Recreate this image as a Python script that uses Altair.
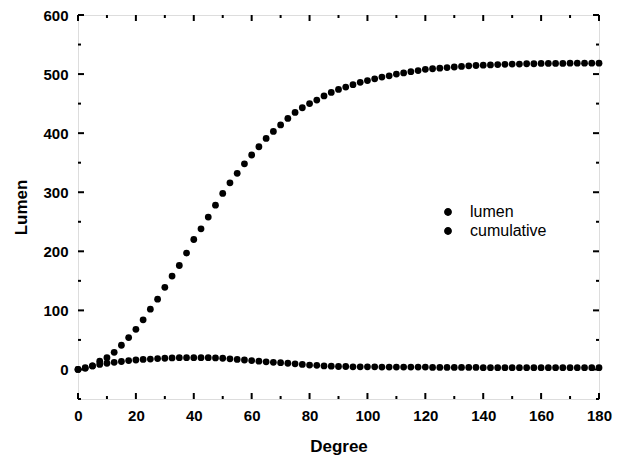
import altair as alt
import pandas as pd

degrees = [i * 2.5 for i in range(73)]

cumulative = [0, 2, 6, 14, 20, 29, 41, 54, 68, 84, 102, 119, 139, 158, 176, 197,
              220, 238, 258, 278, 298, 316, 332, 348, 363, 377, 391, 403, 414, 425,
              435, 443, 450, 456, 463, 469, 474, 478, 482, 486, 489, 492, 495, 497,
              500, 502, 504, 506, 508, 509, 510, 511, 512, 513, 514, 514.5, 515,
              515.5, 516, 516.5, 517, 517, 517.5, 517.5, 518, 518, 518, 518, 518.5,
              518.5, 518.5, 518.5, 518.5]

lumen = [0, 3, 6, 8.5, 10.5, 12, 13.5, 15, 16, 17, 17.5, 18.5, 19, 19.5, 20, 20,
         20, 20, 20, 19.5, 19, 18, 17, 16, 15, 14, 13, 12, 11.5, 10.5, 9.5, 8.5,
         7.5, 7, 6, 5.5, 5, 5, 4.5, 4.5, 4.5, 4.5, 4, 4, 4, 4, 4, 4, 4, 3.5, 3.5,
         3.5, 3.5, 3.5, 3.5, 3.5, 3, 3, 3, 3, 3, 3, 3, 3, 3, 3, 3, 3, 3, 3, 3, 3, 3]

series_names = ["lumen", "cumulative"]

x_major = [0, 20, 40, 60, 80, 100, 120, 140, 160, 180]
x_minor = [10, 30, 50, 70, 90, 110, 130, 150, 170]
y_major = [0, 100, 200, 300, 400, 500, 600]
y_minor = [-50, 50, 150, 250, 350, 450, 550]

W = 521
H = 384

df = pd.concat([
    pd.DataFrame({"Degree": degrees, "Lumen": lumen, "series": "lumen"}),
    pd.DataFrame({"Degree": degrees, "Lumen": cumulative, "series": "cumulative"}),
])

xscale = alt.Scale(domain=[0, 180], nice=False, zero=False)
yscale = alt.Scale(domain=[-50, 600], nice=False, zero=False)

font = "Liberation Sans"

points = alt.Chart(df).mark_circle(size=46, opacity=1).encode(
    x=alt.X("Degree:Q", scale=xscale,
            axis=alt.Axis(values=x_major, ticks=False, domain=False, grid=False,
                          labelFont=font, labelFontSize=15, labelFontWeight="bold",
                          labelColor="black", labelPadding=9, labelFlush=False,
                          title="Degree", titleFont=font, titleFontSize=17,
                          titleFontWeight="bold", titleColor="black", titlePadding=15)),
    y=alt.Y("Lumen:Q", scale=yscale,
            axis=alt.Axis(values=y_major, ticks=False, domain=False, grid=False,
                          labelFont=font, labelFontSize=15, labelFontWeight="bold",
                          labelColor="black", labelPadding=10, labelFlush=False,
                          title="Lumen", titleFont=font, titleFontSize=17,
                          titleFontWeight="bold", titleColor="black", titlePadding=12)),
    color=alt.Color("series:N",
                    scale=alt.Scale(domain=series_names, range=["black", "black"]),
                    legend=alt.Legend(orient="none", legendX=362, legendY=189, title=None,
                                      symbolType="circle", symbolSize=40,
                                      symbolFillColor="black", symbolStrokeColor="black",
                                      labelFont=font, labelFontSize=16, labelColor="black",
                                      labelOffset=14, rowPadding=3)),
)

xmaj = pd.DataFrame({"t": x_major})
xmin = pd.DataFrame({"t": x_minor})
ymaj = pd.DataFrame({"t": y_major})
ymin = pd.DataFrame({"t": y_minor})

def xticks(data, length):
    bottom = alt.Chart(data).mark_rule(color="black", strokeWidth=2).encode(
        x=alt.X("t:Q", scale=xscale), y=alt.value(H), y2=alt.value(H - length))
    top = alt.Chart(data).mark_rule(color="black", strokeWidth=2).encode(
        x=alt.X("t:Q", scale=xscale), y=alt.value(0), y2=alt.value(length))
    return [bottom, top]

def yticks(data, length):
    left = alt.Chart(data).mark_rule(color="black", strokeWidth=2).encode(
        y=alt.Y("t:Q", scale=yscale), x=alt.value(0), x2=alt.value(length))
    right = alt.Chart(data).mark_rule(color="black", strokeWidth=2).encode(
        y=alt.Y("t:Q", scale=yscale), x=alt.value(W), x2=alt.value(W - length))
    return [left, right]

layers = xticks(xmaj, 6) + xticks(xmin, 3) + yticks(ymaj, 6) + yticks(ymin, 3) + [points]

chart = alt.layer(*layers).properties(
    width=W, height=H,
    autosize=alt.AutoSizeParams(type="none"),
    padding={"left": 70, "top": 7, "right": 15, "bottom": 60},
).configure_view(stroke="black", strokeWidth=2.5).configure(background="white")

chart.save("out.html", embed_options={"renderer": "svg", "actions": False})
